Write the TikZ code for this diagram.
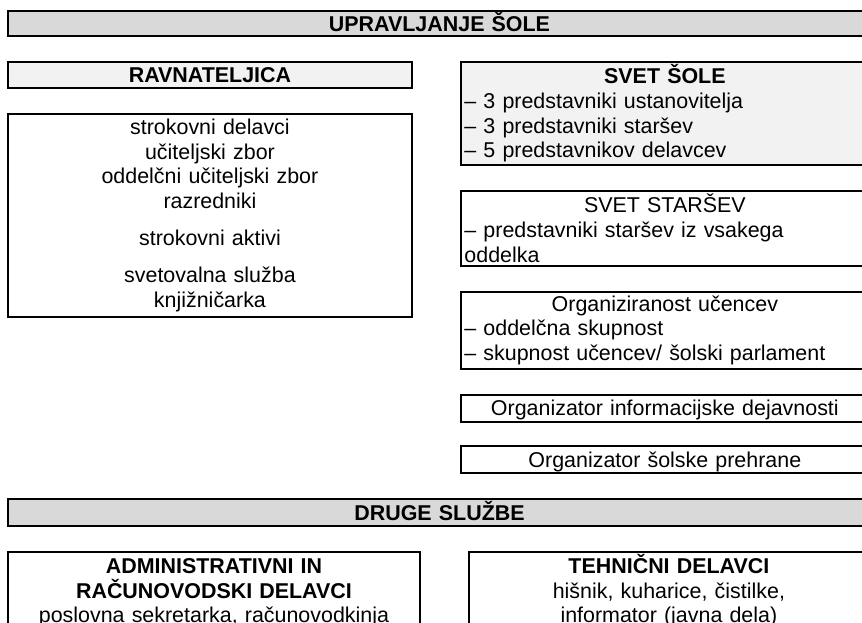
\documentclass[tikz,border=0pt]{standalone}
\usepackage{fontspec}
\setmainfont{Liberation Sans}
\usetikzlibrary{positioning}
\definecolor{bargray}{HTML}{D9D9D9}
\definecolor{boxgray}{HTML}{F2F2F2}
\tikzset{
  okvir/.style={
    rectangle,
    draw=black, line width=1.1pt,
    inner xsep=2pt, inner ysep=1pt,
    font=\fontsize{12}{13.8}\selectfont},
  vrstica/.style={
    text height=8.6pt, text depth=0pt},
  naslov/.style={
    okvir, vrstica,
    fill=bargray,
    font=\fontsize{12}{13.8}\selectfont\bfseries,
    text width=479.3pt, align=center,
    minimum height=14.6pt},
  levo/.style={
    okvir,
    text width=222.2pt},
  desno/.style={
    okvir,
    text width=224.5pt},
  spodaj/.style={
    okvir, align=center,
    text height=11pt, text depth=80pt},
}

\begin{document}
\begin{tikzpicture}
  [x=0.56pt, y=-0.56pt,
  node distance=13.4pt and 26.3pt]
  \useasboundingbox (0,0) rectangle (862,622);
  \clip (0,0) rectangle (862,622);

  % upravljanje
  \node[naslov, anchor=north west, minimum height=14pt] (upravljanje) at (7,10) {UPRAVLJANJE ŠOLE};

  % levi stolpec
  \node[levo, vrstica, fill=boxgray, align=center, minimum height=14.6pt,
    font=\fontsize{12}{13.8}\selectfont\bfseries,
    below=of upravljanje.south west, anchor=north west] (ravnateljica) {RAVNATELJICA};
  \node[levo, align=center, minimum height=113.7pt,
    below=of ravnateljica.south west, anchor=north west] (strokovni)
    {strokovni delavci\\ učiteljski zbor\\ oddelčni učiteljski zbor\\ razredniki\\[7pt]
     strokovni aktivi\\[7pt] svetovalna služba\\ knjižničarka};

  % desni stolpec
  \node[desno, fill=boxgray, align=left, minimum height=57.7pt,
    right=of ravnateljica.north east, anchor=north west] (svetsole)
    {{\centering\textbf{SVET ŠOLE}\par}
     – 3 predstavniki ustanovitelja\\ – 3 predstavniki staršev\\ – 5 predstavnikov delavcev};
  \node[desno, align=left, minimum height=42pt,
    below=of svetsole.south west, anchor=north west] (svetstarsev)
    {{\centering SVET STARŠEV\par}
     – predstavniki staršev iz vsakega\\ oddelka};
  \node[desno, align=left, minimum height=43.1pt,
    below=of svetstarsev.south west, anchor=north west] (ucenci)
    {{\centering Organiziranost učencev\par}
     – oddelčna skupnost\\ – skupnost učencev/ šolski parlament};
  \node[desno, vrstica, align=center, minimum height=15.1pt,
    below=of ucenci.south west, anchor=north west] (informatik)
    {Organizator informacijske dejavnosti};
  \node[desno, vrstica, align=center, minimum height=15.1pt,
    below=12.8pt of informatik.south west, anchor=north west] (prehrana)
    {Organizator šolske prehrane};

  % druge sluzbe
  \coordinate (prehrana-left) at (prehrana.south -| upravljanje.west);
  \node[naslov, minimum height=15.1pt,
    below=of prehrana-left, anchor=north west] (druge) {DRUGE SLUŽBE};

  \node[spodaj, text width=226.7pt,
    below=of druge.south west, anchor=north west] (admin)
    {\textbf{ADMINISTRATIVNI IN}\\ \textbf{RAČUNOVODSKI DELAVCI}\\ poslovna sekretarka, računovodkinja};
  \node[spodaj, text width=220pt,
    right=of admin.north east, anchor=north west] (tehnicni)
    {\textbf{TEHNIČNI DELAVCI}\\ hišnik, kuharice, čistilke,\\ informator (javna dela)};

\end{tikzpicture}
\end{document}
